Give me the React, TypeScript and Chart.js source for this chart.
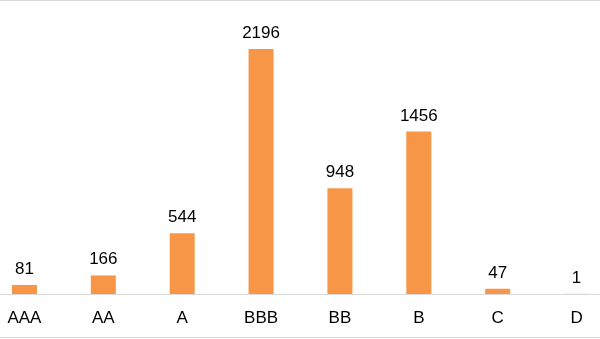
import React, { useEffect, useRef } from "react";
import { Chart, registerables } from "chart.js";

Chart.register(...registerables);

const categories = ["AAA", "AA", "A", "BBB", "BB", "B", "C", "D"];
const values = [81, 166, 544, 2196, 948, 1456, 47, 1];

const BAR_COLOR = "#F79646";
const LINE_COLOR = "#D9D9D9";
const FONT = "'Liberation Sans', Arial, sans-serif";

const valueLabels = {
  id: "valueLabels",
  afterDatasetsDraw(chart: any) {
    const ctx = chart.ctx;
    const meta = chart.getDatasetMeta(0);
    ctx.save();
    ctx.font = `17px ${FONT}`;
    ctx.fillStyle = "#000000";
    ctx.textAlign = "center";
    ctx.textBaseline = "alphabetic";
    meta.data.forEach((bar: any, i: number) => {
      ctx.fillText(String(values[i]), bar.x, bar.y - 11);
    });
    ctx.restore();
  },
};

const frameLines = {
  id: "frameLines",
  afterDraw(chart: any) {
    const ctx = chart.ctx;
    ctx.save();
    ctx.strokeStyle = LINE_COLOR;
    ctx.lineWidth = 1;
    ctx.beginPath();
    ctx.moveTo(0, 0.5);
    ctx.lineTo(chart.width, 0.5);
    ctx.moveTo(0, 337.5);
    ctx.lineTo(chart.width, 337.5);
    ctx.stroke();
    ctx.restore();
  },
};

export default function App() {
  const ref = useRef<HTMLCanvasElement | null>(null);
  useEffect(() => {
    if (!ref.current) return;
    const chart = new Chart(ref.current, {
      type: "bar",
      data: {
        labels: categories,
        datasets: [
          {
            data: values,
            backgroundColor: BAR_COLOR,
            barPercentage: 0.317,
            categoryPercentage: 1,
          },
        ],
      },
      options: {
        animation: false,
        responsive: false,
        maintainAspectRatio: false,
        layout: { padding: { top: 15, bottom: 0, left: 0, right: 0 } },
        plugins: {
          legend: { display: false },
          tooltip: { enabled: false },
          title: { display: false },
        },
        scales: {
          x: {
            grid: { display: false, drawTicks: false },
            border: { display: true, color: LINE_COLOR, width: 1 },
            ticks: {
              color: "#000000",
              font: { family: FONT, size: 17 },
              padding: 14,
              maxRotation: 0,
              autoSkip: false,
            },
            afterFit: (scale: any) => {
              scale.height = 45;
            },
          },
          y: {
            display: false,
            min: 0,
            max: 2500,
          },
        },
      },
      plugins: [valueLabels, frameLines],
    });
    return () => chart.destroy();
  }, []);

  return (
    <div
      style={{
        position: "fixed",
        left: 0,
        top: 0,
        width: 600,
        height: 339,
        overflow: "hidden",
        background: "#ffffff",
      }}
    >
      <canvas
        ref={ref}
        width={631}
        height={339}
        style={{ position: "absolute", left: -15, top: 0, width: 631, height: 339 }}
      />
    </div>
  );
}
